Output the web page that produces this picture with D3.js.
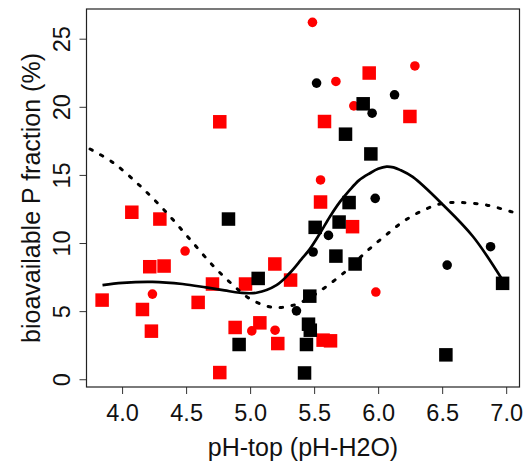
<!DOCTYPE html>
<html>
<head>
<meta charset="utf-8">
<script src="https://cdn.jsdelivr.net/npm/d3@7"></script>
<style>
  html, body { margin: 0; padding: 0; background: #fff; }
  svg { display: block; }
  text { font-family: "Liberation Sans", Arial, sans-serif; fill: #111; }
</style>
</head>
<body>
<svg id="chart" width="528" height="463"></svg>
<script>
// ---- data ----
const redSquares = [
  [4.763, 18.9], [5.93, 22.48], [5.581, 18.92], [6.248, 19.29], [5.55, 13.01],
  [5.80, 11.2], [5.57, 2.87], [5.628, 2.82], [4.076, 12.26], [4.295, 11.76],
  [4.216, 8.26], [4.328, 8.31], [5.193, 8.46], [4.706, 6.99], [4.964, 6.99],
  [5.316, 7.28], [3.844, 5.81], [4.159, 5.12], [4.594, 5.64], [4.229, 3.53],
  [4.883, 3.80], [5.076, 4.14], [5.216, 2.62], [4.763, 0.49]
];
const redCircles = [
  [5.487, 26.2], [6.287, 23.0], [5.67, 21.86], [5.81, 20.07], [5.55, 14.63],
  [5.982, 6.40], [4.492, 9.41], [4.237, 6.25], [5.013, 3.55], [5.195, 3.60]
];
const blackSquares = [
  [5.883, 20.22], [5.745, 17.99], [5.943, 16.54], [5.773, 12.97], [5.508, 11.15],
  [5.695, 11.54], [5.67, 9.04], [5.82, 8.46], [6.972, 7.04], [5.466, 6.10],
  [5.456, 4.04], [5.47, 3.6], [5.44, 2.55], [6.529, 1.79], [5.425, 0.46],
  [4.831, 11.76], [5.063, 7.40], [4.914, 2.55]
];
const blackCircles = [
  [5.519, 21.74], [6.128, 20.88], [5.953, 19.53], [5.977, 13.28], [5.612, 10.56],
  [5.492, 9.34], [6.878, 9.73], [6.539, 8.38], [5.362, 5.02]
];
const solidCurve = [
  [3.847, 6.91], [4.003, 7.08], [4.237, 7.15], [4.472, 6.99], [4.654, 6.74],
  [4.80, 6.52], [4.92, 6.35], [5.05, 6.35], [5.206, 6.91], [5.31, 7.8],
  [5.40, 8.8], [5.466, 9.55], [5.545, 10.7], [5.623, 11.93], [5.70, 13.0],
  [5.779, 13.9], [5.85, 14.6], [5.935, 15.12], [6.00, 15.45], [6.066, 15.61],
  [6.12, 15.55], [6.17, 15.37], [6.27, 14.85], [6.508, 12.79], [6.742, 10.46],
  [6.97, 7.3]
];
const dottedCurve = [
  [3.75, 16.9], [3.925, 15.93], [4.133, 14.26], [4.328, 12.43], [4.523, 10.35],
  [4.714, 8.3], [4.867, 6.91], [5.0, 5.9], [5.18, 5.27], [5.34, 5.44],
  [5.45, 5.9], [5.55, 6.5], [5.75, 7.95], [5.9, 9.3], [6.05, 10.5],
  [6.2, 11.6], [6.35, 12.4], [6.5, 12.9], [6.65, 12.97], [6.85, 12.78],
  [7.04, 12.3], [7.104, 12.15]
];
const xTicks = [4.0, 4.5, 5.0, 5.5, 6.0, 6.5, 7.0];
const yTicks = [0, 5, 10, 15, 20, 25];
const xTitle = "pH-top (pH-H2O)";
const yTitle = "bioavailable P fraction (%)";

// ---- layout ----
const L = 86.5, R = 519.5, T = 9, B = 387;
const x = d3.scaleLinear().domain([3.722, 7.104]).range([L, R]);
const y = d3.scaleLinear().domain([-0.57, 27.18]).range([B, T]);

const svg = d3.select("#chart");

// axes
const xAxis = d3.axisBottom(x).tickValues(xTicks).tickFormat(d3.format(".1f")).tickSize(7).tickSizeOuter(0);
const gx = svg.append("g").attr("transform", `translate(0,${B})`).call(xAxis);
gx.select(".domain").remove();
gx.selectAll(".tick line").attr("stroke", "#333");
gx.selectAll(".tick text").attr("y", 0).attr("dy", 0)
  .attr("transform", "translate(0,34)")
  .style("font-size", "23.5px").style("font-family", "Liberation Sans, Arial, sans-serif");

const yAxis = d3.axisLeft(y).tickValues(yTicks).tickFormat(d3.format("d")).tickSize(7).tickSizeOuter(0);
const gy = svg.append("g").attr("transform", `translate(${L},0)`).call(yAxis);
gy.select(".domain").remove();
gy.selectAll(".tick line").attr("stroke", "#333");
gy.selectAll(".tick text")
  .attr("x", 0).attr("dy", 0)
  .attr("text-anchor", "middle")
  .attr("transform", "translate(-16.5,0) rotate(-90)")
  .style("font-size", "23.5px").style("font-family", "Liberation Sans, Arial, sans-serif");

// box
svg.append("rect").attr("x", L).attr("y", T).attr("width", R - L).attr("height", B - T)
  .attr("fill", "none").attr("stroke", "#222").attr("stroke-width", 1.2);

// titles
svg.append("text").attr("x", (L + R) / 2).attr("y", 456).attr("text-anchor", "middle")
  .style("font-size", "25px").text(xTitle);
svg.append("text").attr("transform", `translate(40,${(T + B) / 2}) rotate(-90)`)
  .attr("text-anchor", "middle").style("font-size", "25px").text(yTitle);

// points
const sq = 13.5;
const marks = svg.append("g");
function squares(data, color) {
  marks.selectAll(null).data(data).enter().append("rect")
    .attr("x", d => x(d[0]) - sq / 2).attr("y", d => y(d[1]) - sq / 2)
    .attr("width", sq).attr("height", sq).attr("fill", color);
}
function circles(data, color) {
  marks.selectAll(null).data(data).enter().append("circle")
    .attr("cx", d => x(d[0])).attr("cy", d => y(d[1])).attr("r", 4.8).attr("fill", color);
}
squares(redSquares, "#ff0000");
circles(redCircles, "#ff0000");
squares(blackSquares, "#000");
circles(blackCircles, "#000");

// curves
const line = d3.line().x(d => x(d[0])).y(d => y(d[1])).curve(d3.curveCatmullRom.alpha(0.5));
svg.append("path").attr("d", line(solidCurve)).attr("fill", "none")
  .attr("stroke", "#000").attr("stroke-width", 2.7).attr("stroke-linejoin", "round");
svg.append("path").attr("d", line(dottedCurve)).attr("fill", "none")
  .attr("stroke", "#000").attr("stroke-width", 3).attr("stroke-linecap", "round")
  .attr("stroke-dasharray", "2.5 9.5");
</script>
</body>
</html>
